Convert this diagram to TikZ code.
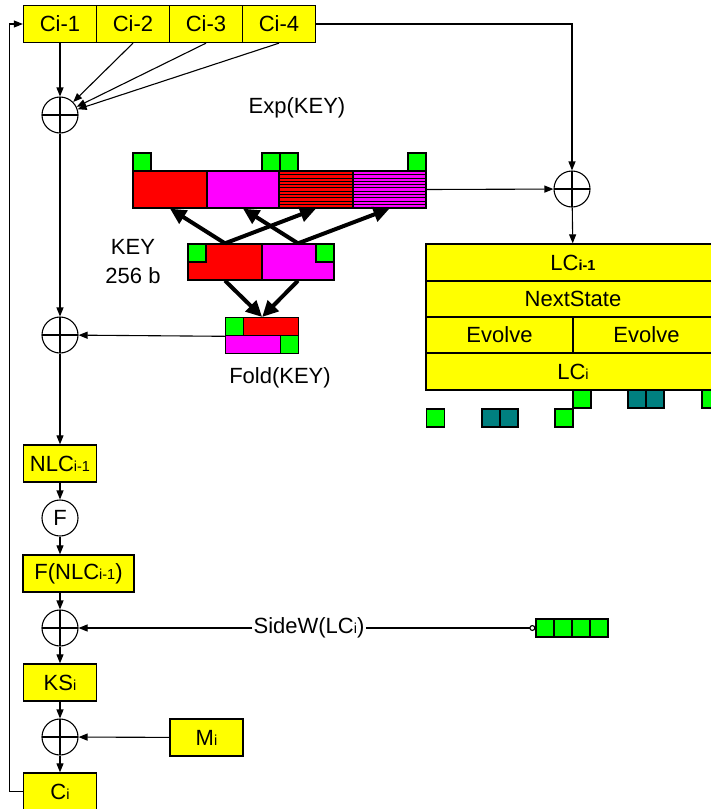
\documentclass[tikz,border=0pt]{standalone}
\usepackage{fontspec}
\setmainfont{Liberation Sans}
\definecolor{boxyellow}{RGB}{255,255,0}
\definecolor{keyred}{RGB}{255,0,0}
\definecolor{keymagenta}{RGB}{255,0,255}
\definecolor{bitgreen}{RGB}{0,255,0}
\definecolor{bitteal}{RGB}{0,128,128}
\usepackage{tikz}
\usetikzlibrary{arrows.meta,calc}
\newcommand{\subidx}[1]{{\fontsize{14.5}{14.5}\selectfont #1}}

\begin{document}
\begin{tikzpicture}[x=1pt, y=-1pt,
    every node/.style={font=\fontsize{22}{26}\selectfont},
    ybox/.style={draw, line width=1.3pt, fill=boxyellow, inner sep=0pt,
                 minimum height=37, minimum width=73},
    seg/.style={draw, line width=1.3pt, inner sep=0pt},
    bit/.style={draw, line width=1.3pt, inner sep=0pt, minimum size=18},
    xor/.style={draw, circle, line width=1.1pt, minimum size=36, inner sep=0pt,
                path picture={\draw[line width=1.1pt]
                  (path picture bounding box.north) -- (path picture bounding box.south)
                  (path picture bounding box.west) -- (path picture bounding box.east);}},
    arr/.style={line width=1.1pt, -{Triangle[length=9pt,width=7pt]}},
    fat/.style={line width=4pt, -{Triangle[length=16pt,width=15pt]}}]
    \useasboundingbox (0,0) rectangle (711,809);

    \foreach \k in {1,...,4}
      \node[ybox] (c\k) at ({60+73*(\k-1)},24) {Ci-\k};

    \node[xor] (xa) at (60,115) {};
    \node[xor] (xb) at (572,189) {};
    \node[xor] (xc) at (60,335) {};
    \node[xor] (xd) at (60,628) {};
    \node[xor] (xe) at (60,737) {};
    \node[draw, circle, line width=1.1pt, minimum size=36, inner sep=0pt] (fx) at (60,518) {F};

    \node[ybox] (nlc) at (60,463.5) {NLC\subidx{i-1}};
    \node[ybox, minimum width=111] (fnlc) at (78.5,573.5) {F(NLC\subidx{i-1})};
    \node[ybox] (ks) at (60,682.5) {KS\subidx{i}};
    \node[ybox] (mi) at (206.5,737.5) {M\subidx{i}};
    \node[ybox] (ci) at (60,791.5) {C\subidx{i}};

    \node (explbl) at (297,108) {Exp(KEY)};
    \node[align=center, font=\fontsize{22}{29}\selectfont] (keylbl) at (133,262) {KEY\\256 b};
    \node (foldlbl) at (280,378) {Fold(KEY)};
    \node[inner sep=1pt] (sw) at (309,628) {SideW(LC\subidx{i})};

    \node[seg, fill=keyred, minimum width=74, minimum height=37] (e1) at (170,189.5) {};
    \node[seg, fill=keymagenta, minimum width=72, minimum height=37] (e2) at (243,189.5) {};
    \node[seg, fill=keyred, minimum width=74, minimum height=37] (e3) at (316,189.5) {};
    \node[seg, fill=keymagenta, minimum width=73, minimum height=37] (e4) at (389.5,189.5) {};
    \foreach \y in {174.5,177.8,...,206}
      \draw[line width=0.6pt] (e3.west |- 0,\y) -- (e4.east |- 0,\y);
    \foreach \x in {142,271,289,417}
      \node[bit, fill=bitgreen] (eb\x) at (\x,162) {};

    \node[seg, fill=keyred, minimum width=74, minimum height=36] (k1) at (225,262) {};
    \node[seg, fill=keymagenta, minimum width=72, minimum height=36] (k2) at (298,262) {};
    \node[bit, fill=bitgreen, anchor=north west] (kb1) at (k1.north west) {};
    \node[bit, fill=bitgreen, anchor=north east] (kb2) at (k2.north east) {};

    \node[seg, fill=keyred, minimum width=73, minimum height=18, anchor=north west] (ftop) at (225,317) {};
    \node[seg, fill=keymagenta, minimum width=73, minimum height=18, anchor=north west] (fbot) at (225,335) {};
    \node[bit, fill=bitgreen, anchor=north west] (fb1) at (ftop.north west) {};
    \node[bit, fill=bitgreen, anchor=south east] (fb2) at (fbot.south east) {};

    \node[ybox, minimum width=294] (lcp) at (573,262.5) {LC\textbf{\subidx{i-1}}};
    \node[ybox, minimum width=294, minimum height=36] (nxt) at (573,299) {NextState};
    \node[ybox, minimum width=147, minimum height=36] (ev1) at (499.5,335) {Evolve};
    \node[ybox, minimum width=147, minimum height=36] (ev2) at (646.5,335) {Evolve};
    \node[ybox, minimum width=294] (lcn) at (573,371.5) {LC\subidx{i}};

    \foreach \x in {582,711}
      \node[bit, fill=bitgreen] (ug\x) at (\x,399) {};
    \foreach \x in {637,655}
      \node[bit, fill=bitteal] (ut\x) at (\x,399) {};
    \foreach \x in {435.5,564}
      \node[bit, fill=bitgreen] (lg\x) at (\x,418) {};
    \foreach \x in {491,509}
      \node[bit, fill=bitteal] (lt\x) at (\x,418) {};

    \foreach \x [count=\n] in {545,563,581,599}
      \node[bit, fill=bitgreen] (b\n) at (\x,628) {};

    \draw[arr] (c1) -- (xa);
    \foreach \k in {2,3,4}
      \draw[arr] (c\k.south) -- (xa);
    \draw[arr] (c4.east) -| (xb);
    \draw[arr] (e4.east) -- (xb);
    \draw[arr] (xb) -- (lcp);

    \draw[fat] (k1.north) -- (e1.south);
    \draw[fat] (k1.north) -- (e3.south);
    \draw[fat] (k2.north) -- (e2.south);
    \draw[fat] (k2.north) -- (e4.south);
    \draw[fat] (k1.south) -- (ftop.north);
    \draw[fat] (k2.south) -- (ftop.north);

    \draw[arr] (xa) -- (xc);
    \draw[arr] (ftop.south west) -- (xc);
    \draw[arr] (xc) -- (nlc);
    \draw[arr] (nlc) -- (fx);
    \draw[arr] (fx) -- (fx |- fnlc.north);
    \draw[arr] (fnlc.south -| xd) -- (xd);
    \draw[arr] (sw) -- (xd);
    \draw[line width=1.1pt, {Circle[open,length=6pt]}-] (b1.west) -- (sw);
    \draw[arr] (xd) -- (ks);
    \draw[arr] (ks) -- (xe);
    \draw[arr] (mi) -- (xe);
    \draw[arr] (xe) -- (ci);
    \draw[arr] (ci.west) -- ++(-13,0) |- (c1.west);
\end{tikzpicture}
\end{document}
